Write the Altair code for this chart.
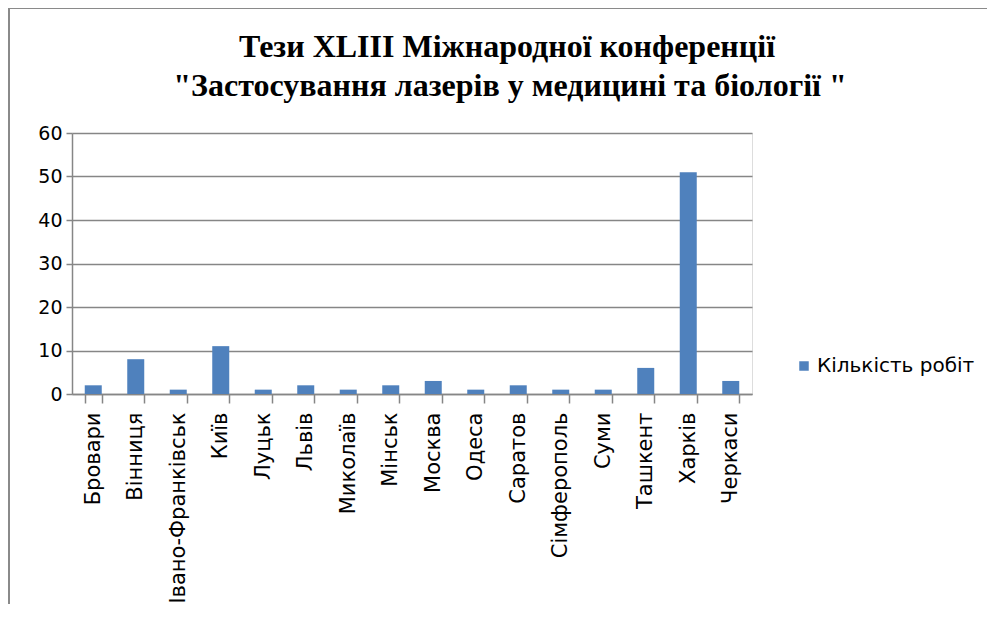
import altair as alt
import pandas as pd

cities = ["Бровари", "Вінниця", "Івано-Франківськ", "Київ", "Луцьк", "Львів",
          "Миколаїв", "Мінськ", "Москва", "Одеса", "Саратов", "Сімферополь",
          "Суми", "Ташкент", "Харків", "Черкаси"]
counts = [2, 8, 1, 11, 1, 2, 1, 2, 3, 1, 2, 1, 1, 6, 51, 3]
series_name = "Кількість робіт"
title_line1 = "Тези XLIII  Міжнародної конференції"
title_line2 = "\"Застосування лазерів у медицині та біології \""
y_ticks = [0, 10, 20, 30, 40, 50, 60]

df = pd.DataFrame({"city": cities, "count": counts, "series": series_name})
one = alt.Data(values=[{"k": 1}])

SANS = "DejaVu Sans"
GRID = "#868686"

bars = alt.Chart(df).mark_bar(color="#4F81BD").encode(
    x=alt.X("city:N", sort=cities, title=None,
            scale=alt.Scale(paddingInner=0.6, paddingOuter=0.3),
            axis=alt.Axis(labelAngle=-90, labelFont=SANS, labelFontSize=21,
                          labelColor="#000000", labelLimit=400,
                          tickBand="extent", tickSize=9, tickColor=GRID,
                          tickWidth=1.5, domainColor=GRID, domainWidth=1.5,
                          labelPadding=9, grid=False)),
    y=alt.Y("count:Q", title=None,
            scale=alt.Scale(domain=[0, 60], nice=False),
            axis=alt.Axis(values=y_ticks, labelFont=SANS, labelFontSize=19,
                          labelColor="#000000", tickSize=6, tickColor=GRID,
                          tickWidth=1.5, domainColor=GRID, domainWidth=1.5,
                          gridColor=GRID, gridWidth=1.6, labelPadding=4)),
    color=alt.Color("series:N",
                    scale=alt.Scale(range=["#4F81BD"]),
                    legend=alt.Legend(title=None, orient="none",
                                      legendX=722, legendY=223,
                                      symbolType="square", symbolSize=90,
                                      symbolStrokeWidth=0,
                                      labelFont=SANS, labelFontSize=20,
                                      labelColor="#000000", labelOffset=3)),
)

frame_top = alt.Chart(one).mark_rule(color="#8a8a8a", strokeWidth=2).encode(
    x=alt.value(-63), x2=alt.value(1000), y=alt.value(-125)
)
frame_left = alt.Chart(one).mark_rule(color="#8a8a8a", strokeWidth=2).encode(
    x=alt.value(-63), y=alt.value(-125), y2=alt.value(600)
)

t1 = alt.Chart(one).mark_text(text=title_line1, font="Liberation Serif",
                              fontSize=32, fontWeight="bold", color="#000000",
                              align="center", baseline="alphabetic").encode(
    x=alt.value(435), y=alt.value(-76))
t2 = alt.Chart(one).mark_text(text=title_line2, font="Liberation Serif",
                              fontSize=32, fontWeight="bold", color="#000000",
                              align="center", baseline="alphabetic").encode(
    x=alt.value(438), y=alt.value(-37))

chart = alt.layer(frame_top, frame_left, t1, t2, bars).properties(
    width=680, height=261,
    autosize=alt.AutoSizeParams(type="none"),
    padding={"left": 64, "top": 125, "right": 235, "bottom": 210},
).configure_view(stroke="transparent", strokeWidth=0, strokeOpacity=0).configure(background="white")

chart.save("out.html", embed_options={"renderer": "svg", "actions": False})
